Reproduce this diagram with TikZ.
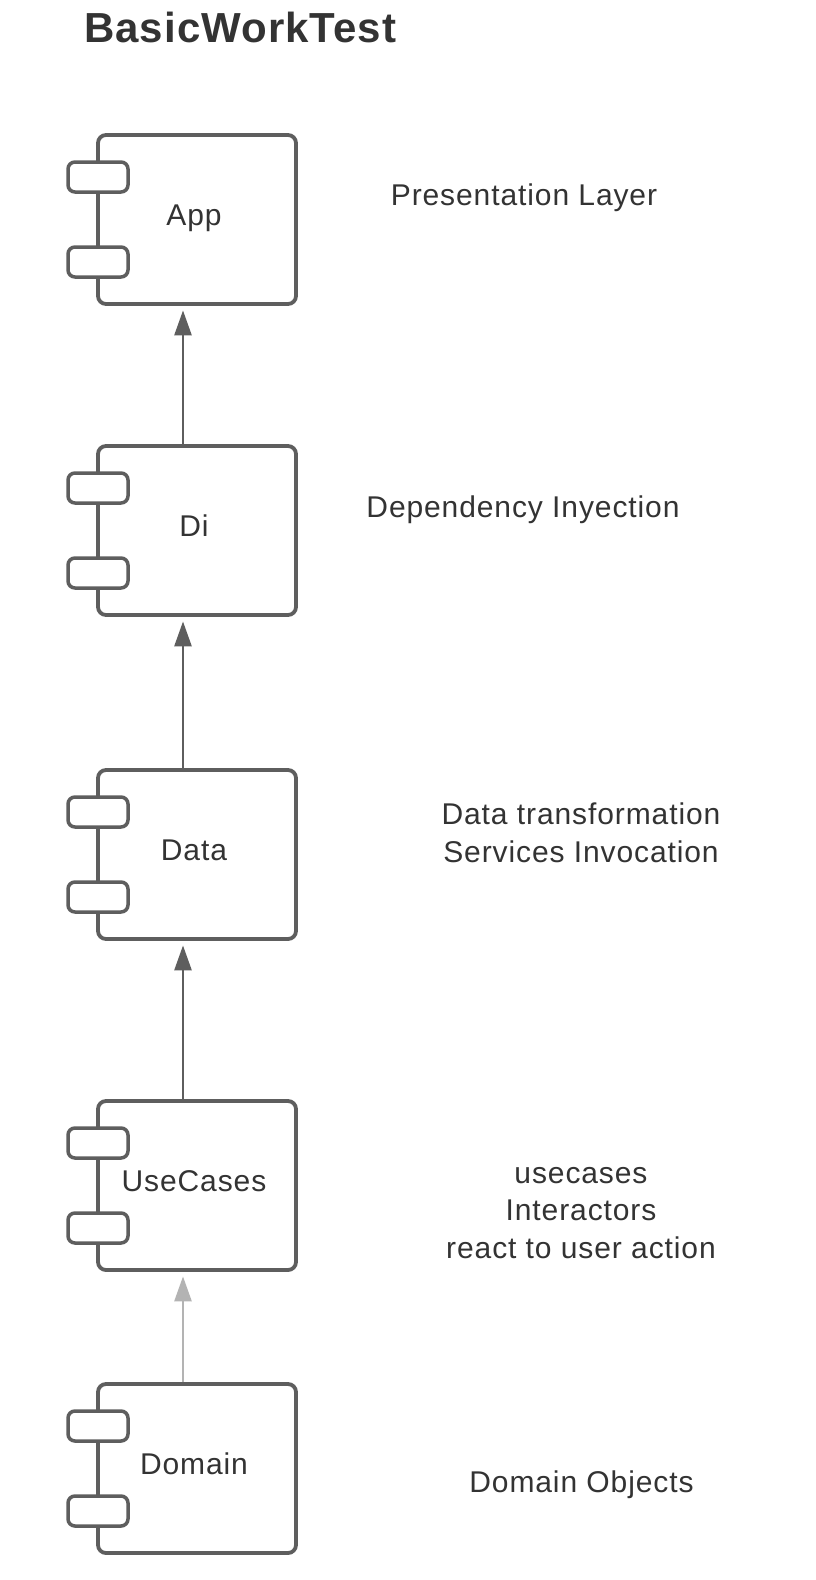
\documentclass[tikz,border=0pt]{standalone}
\usepackage{fontspec}
\setmainfont{Liberation Sans}
\newfontfamily\lblfont[LetterSpace=3]{Liberation Sans}
\newfontfamily\ttlfont[LetterSpace=2.5]{Liberation Sans}
\usetikzlibrary{arrows.meta}
\definecolor{strokegray}{HTML}{5E5E5E}
\definecolor{textgray}{HTML}{333333}
\definecolor{lightarrow}{HTML}{B3B3B3}
\tikzset{
  comp/.style={draw=strokegray, line width=3.8pt, rounded corners=8pt, fill=white,
    minimum width=198pt, minimum height=169pt, inner sep=0pt},
  tab/.style={draw=strokegray, line width=3.5pt, rounded corners=7pt, fill=white,
    minimum width=60pt, minimum height=30pt, inner sep=0pt},
  lbl/.style={text=textgray, font=\lblfont\fontsize{30}{37.5}\selectfont, inner sep=0pt, anchor=base, align=center},
  dep/.style={draw=strokegray, line width=2.7pt, -{Triangle[length=25pt,width=17pt]}, shorten >=4.5pt},
  deplight/.style={dep, draw=lightarrow},
}
\begin{document}
\begin{tikzpicture}[x=1pt,y=-1pt]
\useasboundingbox[fill=white] (0,0) rectangle (816,1580);
\node[text=textgray, font=\ttlfont\bfseries\fontsize{42}{48}\selectfont, anchor=base west, inner sep=0pt] (title) at (84,42) {BasicWorkTest};
% components
\foreach \nm/\cy in {app/219.5, di/530.5, data/854.5, uc/1185.5, dom/1468.5}{
  \node[comp] (\nm) at (197,\cy) {};
  \node[tab] (\nm t1) at (98,\cy-84.5+42) {};
  \node[tab] (\nm t2) at (98,\cy-84.5+127) {};
}
\node[lbl] (applbl) at (194,225.5) {App};
\node[lbl] (dilbl) at (194,536.5) {Di};
\node[lbl] (datalbl) at (194,860.5) {Data};
\node[lbl] (uclbl) at (194,1191.5) {UseCases};
\node[lbl] (domlbl) at (194,1474.5) {Domain};
% descriptions (base anchor = last line)
\node[lbl] (d1) at (524,205) {Presentation Layer};
\node[lbl] (d2) at (523,517) {Dependency Inyection};
\node[lbl] (d3) at (581,862) {Data transformation\\Services Invocation};
\node[lbl] (d4) at (581,1258) {usecases\\Interactors\\react to user action};
\node[lbl] (d5) at (581.5,1492) {Domain Objects};
% arrows
\coordinate (ax) at (183,0);
\draw[dep] (di.north -| ax) -- (app.south -| ax);
\draw[dep] (data.north -| ax) -- (di.south -| ax);
\draw[dep] (uc.north -| ax) -- (data.south -| ax);
\draw[deplight] (dom.north -| ax) -- (uc.south -| ax);
\end{tikzpicture}
\end{document}
